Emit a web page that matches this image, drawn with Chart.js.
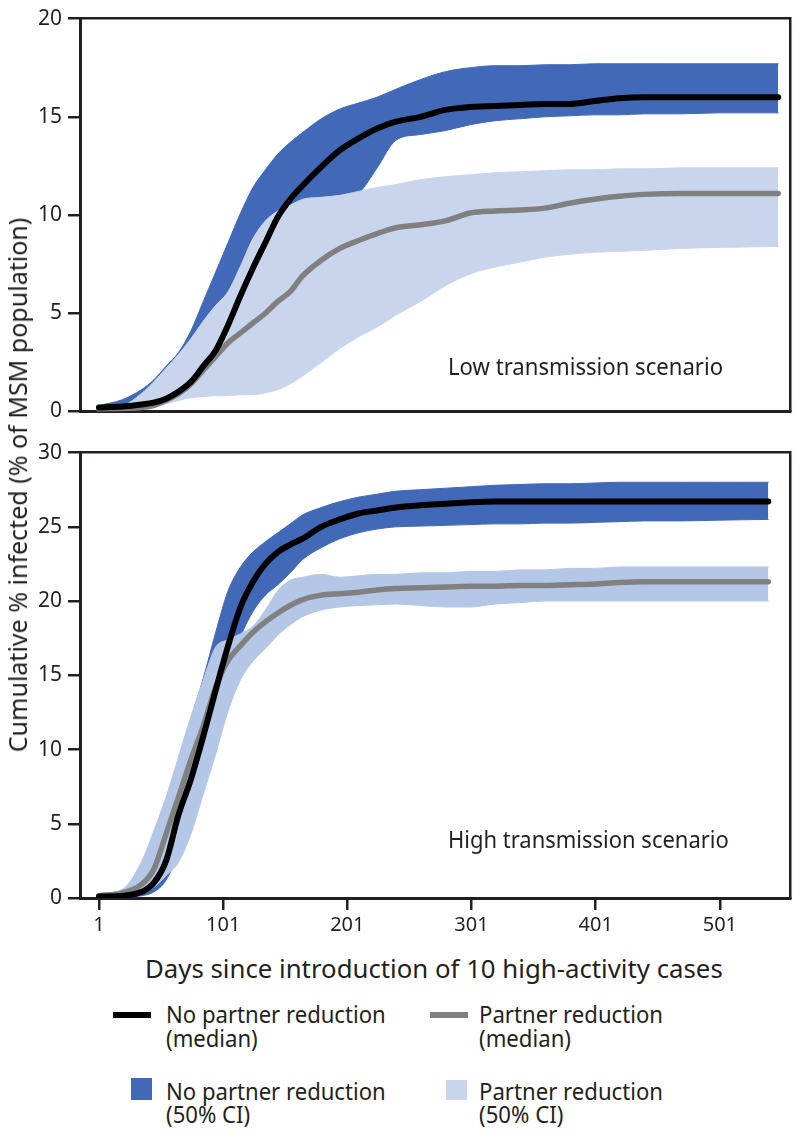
<!DOCTYPE html>
<html>
<head>
<meta charset="utf-8">
<script src="https://cdn.jsdelivr.net/npm/chart.js@4/dist/chart.umd.min.js"></script>
<style>
  body { margin: 0; width: 800px; height: 1134px; position: relative; overflow: hidden; background: #fff;
         font-family: "Noto Sans", sans-serif; color: #231f20; }
  .panel { position: absolute; left: 0; }
  .txt { position: absolute; white-space: nowrap; line-height: 1; transform-origin: left center; }
  .swatch { position: absolute; }
</style>
</head>
<body>
<div class="panel" style="top:0"><canvas id="lowChart" width="800" height="430"></canvas></div>
<div class="panel" style="top:434px"><canvas id="highChart" width="800" height="514"></canvas></div>
<div id="labels"></div>

<script>
// days since introduction (x values for each panel)
const lowDays = [1, 20, 35, 45, 55, 65, 75, 85, 95, 105, 115, 125, 135, 145, 155, 165, 180, 195, 210,
  225, 240, 260, 280, 300, 320, 340, 360, 380, 400, 420, 440, 470, 500, 548];
const highDays = [1, 20, 35, 45, 55, 65, 75, 85, 95, 105, 115, 125, 135, 145, 155, 165, 180, 195, 210,
  225, 240, 260, 280, 300, 320, 340, 360, 380, 400, 420, 440, 470, 500, 540];
const xTicks = [1, 101, 201, 301, 401, 501];
const lowYTicks = [0, 5, 10, 15, 20];
const highYTicks = [0, 5, 10, 15, 20, 25, 30];

// low transmission scenario
const lowNoRedMedian = [0.2, 0.25, 0.35, 0.45, 0.65, 1.0, 1.5, 2.3, 3.1, 4.4, 5.9, 7.3, 8.6, 9.9, 10.8, 11.5,
  12.45, 13.3, 13.9, 14.4, 14.75, 15.0, 15.35, 15.5, 15.55, 15.6, 15.65, 15.65, 15.8, 15.95, 16.0, 16.0, 16.0, 16.0];
const lowRedMedian = [0.1, 0.15, 0.2, 0.3, 0.55, 0.9, 1.4, 2.1, 2.8, 3.5, 4.0, 4.5, 5.0, 5.6, 6.1, 6.9,
  7.7, 8.3, 8.7, 9.05, 9.35, 9.5, 9.7, 10.1, 10.2, 10.25, 10.35, 10.6, 10.8, 10.95, 11.05, 11.1, 11.1, 11.1];
const lowNoRedHigh = [0.3, 0.6, 1.1, 1.6, 2.3, 3.0, 4.1, 5.6, 7.1, 8.6, 10.1, 11.4, 12.3, 13.1, 13.7, 14.2,
  14.9, 15.4, 15.7, 16.0, 16.4, 16.9, 17.3, 17.5, 17.6, 17.6, 17.65, 17.65, 17.7, 17.7, 17.7, 17.7, 17.7, 17.7];
const lowNoRedLow = [0.1, 0.15, 0.25, 0.4, 0.6, 0.9, 1.3, 1.8, 2.5, 3.3, 4.3, 5.4, 6.5, 7.6, 8.6, 9.5,
  10.4, 10.8, 11.1, 12.4, 13.8, 14.1, 14.3, 14.6, 14.8, 14.9, 15.0, 15.05, 15.1, 15.1, 15.15, 15.15, 15.2, 15.2];
const lowRedHigh = [0.2, 0.3, 0.9, 1.5, 2.2, 2.9, 3.7, 4.6, 5.4, 6.1, 7.4, 8.8, 9.7, 10.2, 10.5, 10.8,
  10.9, 11.0, 11.2, 11.4, 11.55, 11.8, 11.95, 12.05, 12.15, 12.2, 12.25, 12.3, 12.3, 12.35, 12.35, 12.4, 12.4, 12.4];
const lowRedLow = [0.05, 0.1, 0.2, 0.3, 0.4, 0.55, 0.7, 0.75, 0.8, 0.8, 0.85, 0.85, 0.95, 1.1, 1.4, 1.8,
  2.5, 3.2, 3.8, 4.3, 4.9, 5.6, 6.4, 7.0, 7.35, 7.6, 7.85, 8.0, 8.1, 8.15, 8.2, 8.3, 8.35, 8.4];

// high transmission scenario
const highNoRedMedian = [0.1, 0.15, 0.4, 1.0, 2.5, 5.6, 8.0, 10.9, 14.0, 17.0, 19.6, 21.3, 22.5, 23.3, 23.8, 24.2,
  25.0, 25.5, 25.9, 26.1, 26.3, 26.45, 26.55, 26.65, 26.7, 26.7, 26.7, 26.7, 26.7, 26.7, 26.7, 26.7, 26.7, 26.7];
const highRedMedian = [0.15, 0.35, 0.9, 1.9, 4.3, 6.8, 9.3, 11.6, 14.2, 16.0, 17.0, 17.9, 18.6, 19.2, 19.7, 20.1,
  20.4, 20.5, 20.6, 20.75, 20.85, 20.9, 20.95, 21.0, 21.0, 21.05, 21.05, 21.1, 21.15, 21.25, 21.3, 21.3, 21.3, 21.3];
const highNoRedHigh = [0.3, 0.5, 1.8, 3.4, 6.1, 9.3, 12.1, 14.8, 17.9, 20.7, 22.3, 23.3, 24.0, 24.6, 25.2, 25.8,
  26.3, 26.7, 27.0, 27.2, 27.4, 27.5, 27.6, 27.7, 27.8, 27.85, 27.9, 27.9, 27.95, 28.0, 28.0, 28.0, 28.0, 28.0];
const highNoRedLow = [0.05, 0.05, 0.15, 0.4, 1.2, 3.1, 6.1, 8.9, 12.6, 15.2, 17.6, 19.3, 20.4, 21.1, 21.9, 22.8,
  23.6, 24.2, 24.6, 24.85, 25.0, 25.05, 25.1, 25.15, 25.2, 25.2, 25.25, 25.25, 25.3, 25.35, 25.4, 25.4, 25.45, 25.5];
const highRedHigh = [0.3, 0.6, 2.4, 4.5, 6.8, 9.5, 12.2, 14.7, 16.9, 17.4, 17.8, 18.3, 19.4, 20.7, 21.4, 21.6,
  21.8, 21.6, 21.7, 21.8, 21.8, 21.9, 21.9, 22.0, 22.0, 22.1, 22.1, 22.2, 22.2, 22.3, 22.3, 22.3, 22.3, 22.3];
const highRedLow = [0.05, 0.1, 0.3, 0.7, 1.5, 2.4, 4.3, 7.0, 9.7, 12.6, 14.7, 15.95, 16.8, 17.7, 18.4, 18.95,
  19.4, 19.6, 19.7, 19.75, 19.8, 19.7, 19.6, 19.6, 19.8, 19.9, 20.0, 20.0, 20.0, 20.0, 20.0, 20.0, 20.0, 20.0];

const INK = "#231f20";
const DARK = "#4169b7";
const LIGHT_LOW = "#c8d5ed";
const LIGHT_HIGH = "#b5c7e7";
const GREY = "#808080";
const X_MIN = -14.3;
const X_MAX = 557.9;

Chart.defaults.font.family = "'Noto Sans', sans-serif";
Chart.defaults.color = INK;

function pts(days, values) {
  return values.map((v, i) => ({ x: days[i], y: v }));
}

function band(days, hi, lo, color) {
  return [
    { data: pts(days, hi), borderColor: color, backgroundColor: color, borderWidth: 1, fill: "+1" },
    { data: pts(days, lo), borderColor: color, borderWidth: 1, fill: false }
  ];
}

function makeChart(id, days, series, light, yTicks, showX, padTop) {
  const ctx = document.getElementById(id).getContext("2d");
  const yMax = yTicks[yTicks.length - 1];
  const datasets = [
    { data: pts(days, series[0]), borderColor: "#000", borderWidth: 6 },
    { data: pts(days, series[1]), borderColor: GREY, borderWidth: 5.5 }
  ].concat(band(days, series[2], series[3], light), band(days, series[4], series[5], DARK));
  datasets.forEach(d => { d.xAxisID = "x"; d.yAxisID = "y"; });

  return new Chart(ctx, {
    type: "line",
    data: { datasets: datasets },
    options: {
      responsive: false,
      animation: false,
      layout: { padding: { top: padTop, right: 9.5, left: 0, bottom: 0 } },
      elements: {
        point: { radius: 0 },
        line: { cubicInterpolationMode: "monotone", borderCapStyle: "round", borderJoinStyle: "round" }
      },
      plugins: { legend: { display: false }, tooltip: { enabled: false } },
      scales: {
        x: {
          type: "linear", min: X_MIN, max: X_MAX,
          afterBuildTicks: s => { s.ticks = xTicks.map(v => ({ value: v })); },
          afterFit: s => { s.height = showX ? 50 : 18; },
          grid: { drawOnChartArea: false, drawTicks: showX, tickLength: 12, color: INK, lineWidth: 2.5 },
          border: { color: INK, width: 3 },
          ticks: { display: showX, padding: 3, maxRotation: 0, autoSkip: false, font: { size: 20 },
                   callback: v => String(v) }
        },
        y: {
          min: 0, max: yMax,
          afterBuildTicks: s => { s.ticks = yTicks.map(v => ({ value: v })); },
          afterFit: s => { s.width = 80; },
          grid: { drawOnChartArea: false, tickLength: 12, color: INK, lineWidth: 2.5 },
          border: { color: INK, width: 3 },
          ticks: { padding: 6, font: { size: 21 }, callback: v => String(v) }
        },
        xTop: {
          type: "linear", position: "top", min: X_MIN, max: X_MAX,
          afterFit: s => { s.height = 0; },
          grid: { drawOnChartArea: false, drawTicks: false },
          ticks: { display: false },
          border: { color: INK, width: 2.5 }
        },
        yRight: {
          position: "right", min: 0, max: yMax,
          afterFit: s => { s.width = 0; },
          grid: { drawOnChartArea: false, drawTicks: false },
          ticks: { display: false },
          border: { color: INK, width: 2.5 }
        }
      }
    }
  });
}

makeChart("lowChart", lowDays,
  [lowNoRedMedian, lowRedMedian, lowRedHigh, lowRedLow, lowNoRedHigh, lowNoRedLow],
  LIGHT_LOW, lowYTicks, false, 18);
makeChart("highChart", highDays,
  [highNoRedMedian, highRedMedian, highRedHigh, highRedLow, highNoRedHigh, highNoRedLow],
  LIGHT_HIGH, highYTicks, true, 18.5);

// ---- text and legend (HTML) ----
const holder = document.getElementById("labels");

// put a line of text with its baseline at y, squeezed to a given width
function addText(str, x, baseline, size, width, scale) {
  const el = document.createElement("div");
  el.className = "txt";
  el.textContent = str;
  el.style.fontSize = size + "px";
  el.style.left = x + "px";
  el.style.top = (baseline - 0.888 * size) + "px";
  holder.appendChild(el);
  const r = scale || (width / el.offsetWidth);
  el.style.transform = "scaleX(" + r + ")";
  return r;
}

function addSwatch(x, y, w, h, color) {
  const el = document.createElement("div");
  el.className = "swatch";
  el.style.cssText = "left:" + x + "px;top:" + y + "px;width:" + w + "px;height:" + h + "px;background:" + color;
  holder.appendChild(el);
}

// scenario labels
addText("Low transmission scenario", 448, 375, 23, 275);
addText("High transmission scenario", 448, 848, 23, 281);

// x axis title
addText("Days since introduction of 10 high-activity cases", 145, 978, 26, 578);

// y axis title, rotated
(function () {
  const el = document.createElement("div");
  el.className = "txt";
  el.textContent = "Cumulative % infected (% of MSM population)";
  el.style.fontSize = "26px";
  el.style.left = "17px";
  el.style.top = "485px";
  el.style.transformOrigin = "center center";
  holder.appendChild(el);
  const r = 535 / el.offsetWidth;
  el.style.transform = "translate(-50%,-50%) rotate(-90deg) scaleX(" + r + ")";
})();

// legend
addSwatch(113, 1012, 38, 6, "#000");
addSwatch(430, 1012, 38, 6, GREY);
addSwatch(131, 1078, 21, 22, DARK);
addSwatch(446, 1080, 21, 20, LIGHT_LOW);

const s1 = addText("No partner reduction", 166, 1023, 23, 220);
addText("(median)", 166, 1047, 23, 0, s1);
const s2 = addText("Partner reduction", 479, 1023, 23, 184);
addText("(median)", 479, 1047, 23, 0, s2);
addText("No partner reduction", 166, 1100, 23, 0, s1);
addText("(50% CI)", 166, 1123, 23, 0, s1);
addText("Partner reduction", 479, 1100, 23, 0, s2);
addText("(50% CI)", 479, 1123, 23, 0, s2);
</script>
</body>
</html>
